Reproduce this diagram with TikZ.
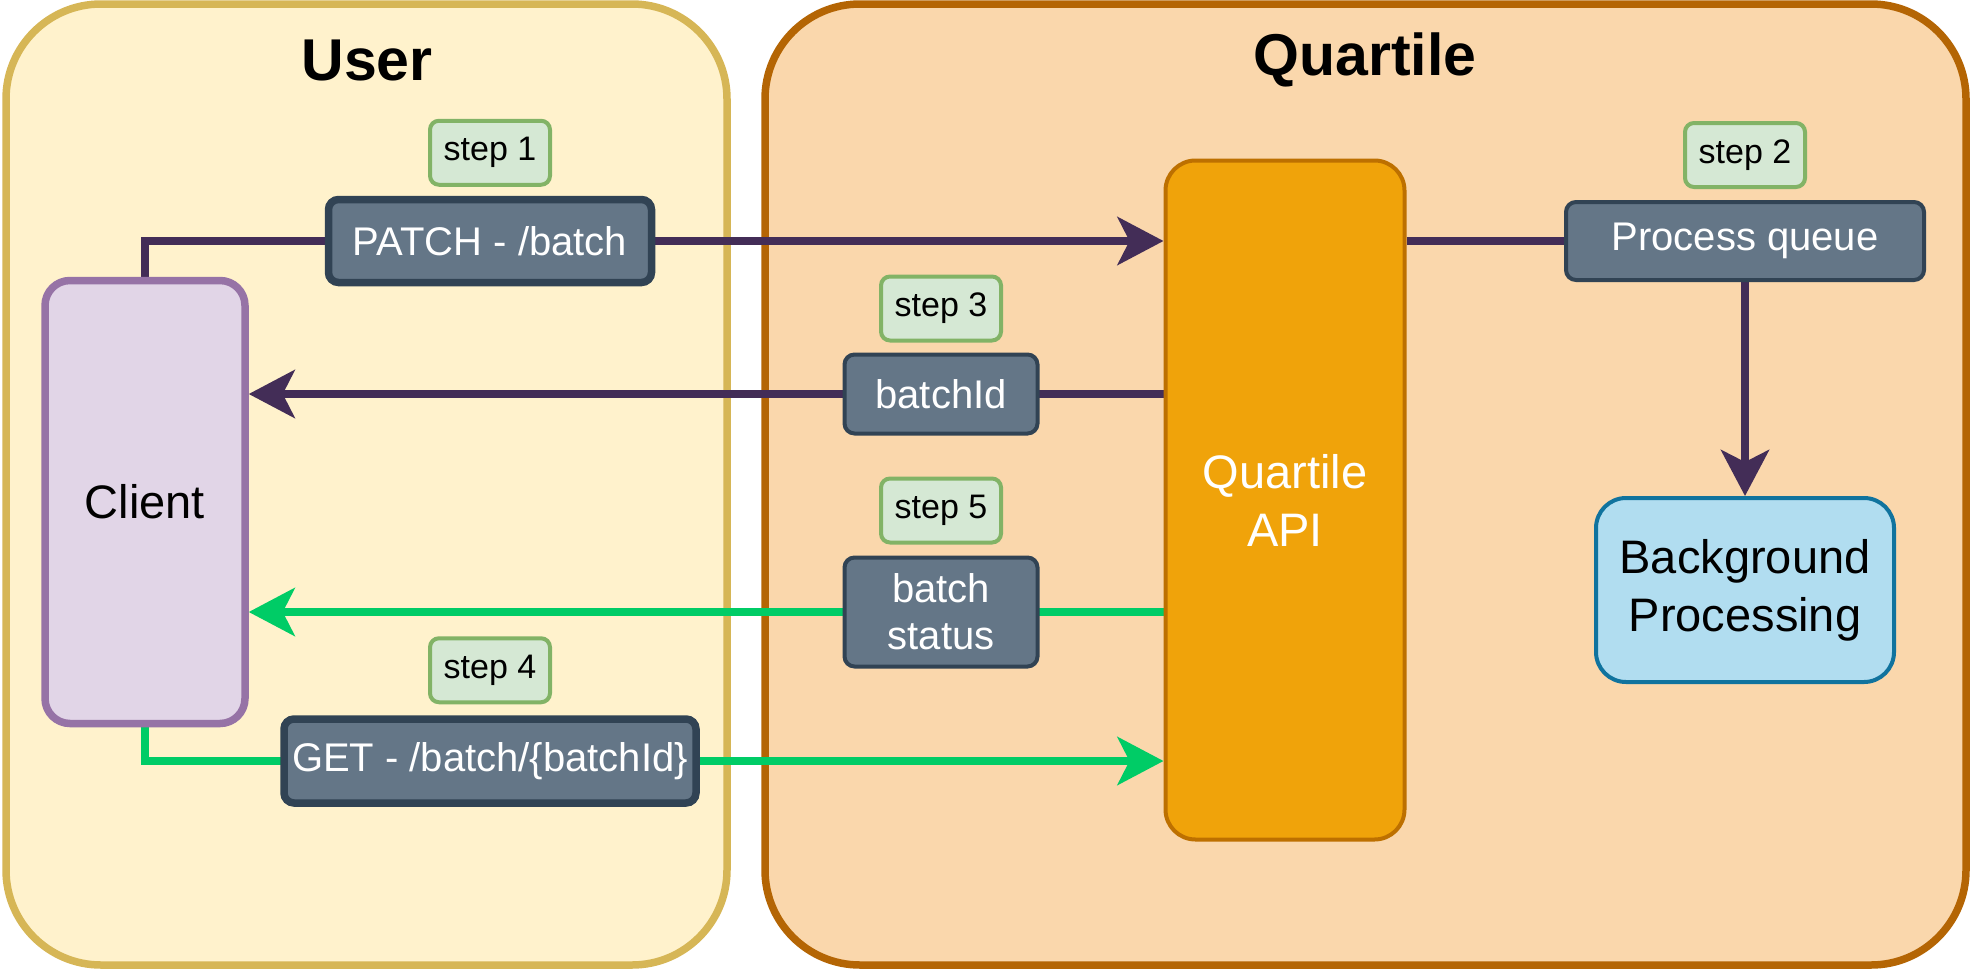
\documentclass[tikz,border=0pt]{standalone}
\usepackage{fontspec}
\setmainfont{Liberation Sans}
\usetikzlibrary{arrows.meta, positioning}

\definecolor{userfill}{HTML}{FFF2CC}
\definecolor{userline}{HTML}{D6B656}
\definecolor{qfill}{HTML}{FAD7AC}
\definecolor{qline}{HTML}{B46504}
\definecolor{clientfill}{HTML}{E1D5E7}
\definecolor{clientline}{HTML}{9673A6}
\definecolor{apifill}{HTML}{F0A30A}
\definecolor{apiline}{HTML}{BD7000}
\definecolor{msgfill}{HTML}{647687}
\definecolor{msgline}{HTML}{314354}
\definecolor{stepfill}{HTML}{D5E8D4}
\definecolor{stepline}{HTML}{82B366}
\definecolor{bgfill}{HTML}{B1DDF0}
\definecolor{bgline}{HTML}{10739E}
\definecolor{wirepurple}{HTML}{432D57}
\definecolor{wiregreen}{HTML}{00CC66}

\newcommand{\titletxt}{\fontsize{59}{68}\selectfont\bfseries}
\newcommand{\bigtxt}{\fontsize{47}{58}\selectfont}
\newcommand{\midtxt}{\fontsize{40}{47}\selectfont}
\newcommand{\steptxt}{\fontsize{34}{39}\selectfont}

\pgfdeclarelayer{back}
\pgfdeclarelayer{wires}
\pgfsetlayers{back,wires,main}

\tikzset{
  zone/.style={line width=7.5pt, rounded corners=95pt},
  title/.style={font=\titletxt, inner sep=0pt},
  client/.style={draw=clientline, fill=clientfill, line width=7.5pt, rounded corners=25pt,
    minimum width=200pt, minimum height=443pt, font=\bigtxt},
  api/.style={draw=apiline, fill=apifill, line width=4pt, rounded corners=30pt,
    minimum width=239pt, minimum height=679pt, font=\bigtxt, text=white, align=center},
  queue/.style={draw=msgline, fill=msgfill, line width=4pt, rounded corners=10pt,
    minimum width=358pt, minimum height=78pt, font=\midtxt, text=white},
  worker/.style={draw=bgline, fill=bgfill, line width=4pt, rounded corners=30pt,
    minimum width=298pt, minimum height=184pt, font=\bigtxt, align=center},
  msg/.style={draw=msgline, fill=msgfill, line width=4pt, rounded corners=10pt,
    font=\midtxt, text=white, align=center, inner sep=0pt},
  stepbox/.style={draw=stepline, fill=stepfill, line width=4pt, rounded corners=9pt,
    minimum width=120pt, minimum height=64pt, font=\steptxt, inner sep=0pt},
  purplewire/.style={draw=wirepurple, line width=7.5pt},
  greenwire/.style={draw=wiregreen, line width=7.5pt}
}

\begin{document}
\begin{tikzpicture}[x=1pt, y=-1pt, >={Stealth[length=46pt, width=48pt, inset=12pt]}]
\useasboundingbox (0,0) rectangle (1972,972);

% the two sides
\begin{pgfonlayer}{back}
\draw[zone, fill=userfill, draw=userline] (6,4) rectangle (727,965);
\draw[zone, fill=qfill, draw=qline] (765,4) rectangle (1966,965);
\end{pgfonlayer}
\node[title] (usertitle) at (367,60) {User};
\node[title] (qtitle) at (1365,60) {Quartile};

% main blocks
\node[client] (client) at (145,502) {Client};
\node[api] (api) at (1285,500) {Quartile\\API};
\node[queue] (queue) at (1745,241) {Process queue};
\node[worker] (worker) at (1745,590) {Background\\Processing};

% requests and answers
\node[msg, line width=7.5pt, minimum width=323pt, minimum height=83pt] (patch) at (490,241) {PATCH - /batch};
\node[msg, minimum width=193pt, minimum height=79pt] (batchid) at (941,394) {batchId};
\node[msg, minimum width=193pt, minimum height=109pt] (status) at (941,612) {batch\\status};
\node[msg, line width=7.5pt, minimum width=412pt, minimum height=84pt] (get) at (490,761) {GET - /batch/\{batchId\}};

% steps
\node[stepbox, above=9pt of patch] (step1) {step 1};
\node[stepbox, above=11pt of queue] (step2) {step 2};
\node[stepbox, above=10pt of batchid] (step3) {step 3};
\node[stepbox, above=11pt of get] (step4) {step 4};
\node[stepbox, above=11pt of status] (step5) {step 5};

% wires
\begin{pgfonlayer}{wires}
\draw[purplewire, ->] (client.north) |- (api.west |- patch);
\draw[purplewire, ->] (api.west |- batchid) -- (client.east |- batchid);
\draw[greenwire, ->] (api.west |- status) -- (client.east |- status);
\draw[greenwire, ->] (client.south) |- (api.west |- get);
\draw[purplewire] (api.east |- queue) -- (queue);
\draw[purplewire, ->] (queue) -- (worker);
\end{pgfonlayer}

\end{tikzpicture}
\end{document}
